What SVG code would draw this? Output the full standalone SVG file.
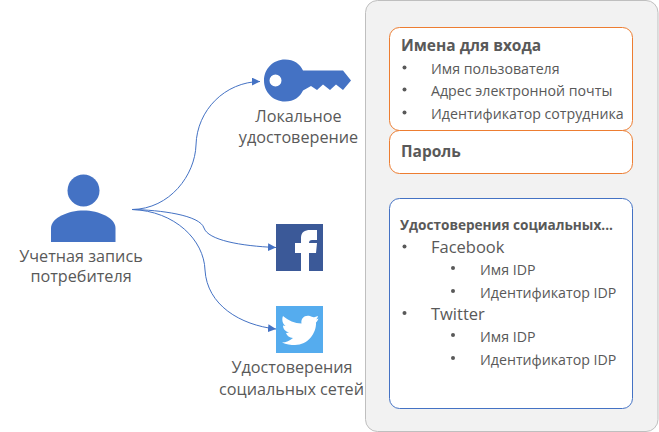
<svg xmlns="http://www.w3.org/2000/svg" width="659" height="432" viewBox="0 0 659 432">
<style>
text{font-family:"Open Sans","Noto Sans","Liberation Sans",sans-serif;fill:#595959}
.l{font-size:16.2px;text-anchor:middle}
.t{font-size:15.5px;font-weight:700}
.i{font-size:14.2px}
.f{font-size:16.5px}
.s{font-size:13.6px;font-weight:700}
.o{fill:#fff;stroke:#ed7d31;stroke-width:1}
.b{fill:#fff;stroke:#4472c4;stroke-width:1}
.c{fill:none;stroke:#4472c4;stroke-width:1;marker-end:url(#a)}
.k{fill:#4472c4}
.d{fill:#595959}
</style>
<defs><marker id="a" markerUnits="userSpaceOnUse" markerWidth="9" markerHeight="8" refX="8" refY="4" orient="auto"><path d="M0,0L8,4L0,8Z" fill="#4472c4"/></marker></defs>
<g id="panel">
<rect x="365.5" y="0.5" width="292.5" height="431" rx="12" fill="#f2f2f2" stroke="#bfbfbf"/>
</g>
<g id="connectors">
<path class="c" d="M132,209.5C170,209 195,175 196,145C197,110 225,82 260,81.5"/>
<path class="c" d="M132,209.5C160,210 200,215 204,228C208,240 240,246 276,247.5"/>
<path class="c" d="M132,209.5C175,211 204,240 205,270C207,305 240,325 276,329"/>
</g>
<g id="consumer">
<circle class="k" cx="83.500" cy="190.500" r="16"/>
<path class="k" d="M51,242V228C51,218 68,210.500 83.500,210.500C99,210.500 115.500,218 115.500,228V242Z"/>
<text class="l" x="81" y="262">Учетная запись</text>
<text class="l" x="81" y="282">потребителя</text>
</g>
<g id="local">
<path class="k" fill-rule="evenodd" d="M285,59.500C294,59.500 300,64 303,70.500H343L351,80.500L343,90L336,84.500L330,90L323,84.500L317,90L311,86L303,90.500C300,97 294,101.500 285,101.500C273,101.500 264,92 264,80.500C264,69 273,59.500 285,59.500ZM275.500,74.500A6,6 0 1 0 275.500,86.500A6,6 0 1 0 275.500,74.500Z"/>
<text class="l" x="298.500" y="122">Локальное</text>
<text class="l" x="298.500" y="143">удостоверение</text>
</g>
<g id="facebook">
<rect x="276" y="224" width="47" height="47" fill="#3b5998"/>
<path fill="#fff" d="M301,271V253H295V243H301V238C301,232 305,230 310,230H317V240H312C310,240 309,241 309,243H317L316,253H309V271Z"/>
</g>
<g id="twitter">
<rect x="276" y="306" width="47" height="47" fill="#55acee"/>
<path fill="#fff" d="M315,317C313,317.500 312,317 310,316C305,314.500 300.500,318 301.500,323.500C295,323.500 288,320.500 283,316C281.500,319.500 282.500,323.500 285.500,326L283,325.500C283,329 285.500,331.500 289,332.500L286,333C287,336 289.500,337.500 293,338C290,340.500 286,342.500 282,342.500C286,344.500 291,345 295,345C308,345 316.500,333 316,322.500C317,321.500 318,320 318.500,318.500L316,319.500C317,318.500 318,317 318,316Z"/>
<text class="l" x="292" y="373">Удостоверения</text>
<text class="l" x="291.500" y="395">социальных сетей</text>
</g>
<g id="sign-in-names">
<rect class="o" x="389.500" y="27.500" width="243" height="103" rx="10"/>
<text class="t" x="401" y="51">Имена для входа</text>
<circle class="d" cx="404.500" cy="67.500" r="2"/>
<text class="i" x="431" y="74">Имя пользователя</text>
<circle class="d" cx="404.500" cy="89.500" r="2"/>
<text class="i" x="431" y="96">Адрес электронной почты</text>
<circle class="d" cx="404.500" cy="112.500" r="2"/>
<text class="i" x="431" y="119">Идентификатор сотрудника</text>
</g>
<g id="password">
<rect class="o" x="389.500" y="130.500" width="243" height="43" rx="10"/>
<text class="t" x="401" y="157">Пароль</text>
</g>
<g id="social">
<rect class="b" x="389.500" y="198.500" width="243" height="210" rx="10"/>
<text class="s" x="400" y="230">Удостоверения социальных...</text>
<circle class="d" cx="404.500" cy="246.500" r="2"/>
<text class="f" x="431" y="253">Facebook</text>
<circle class="d" cx="453" cy="268" r="2"/>
<text class="i" x="480" y="275">Имя IDP</text>
<circle class="d" cx="453" cy="291" r="2"/>
<text class="i" x="480" y="298">Идентификатор IDP</text>
<circle class="d" cx="404.500" cy="313" r="2"/>
<text class="f" x="431" y="320">Twitter</text>
<circle class="d" cx="453" cy="335" r="2"/>
<text class="i" x="480" y="342">Имя IDP</text>
<circle class="d" cx="453" cy="358" r="2"/>
<text class="i" x="480" y="365">Идентификатор IDP</text>
</g>
</svg>
